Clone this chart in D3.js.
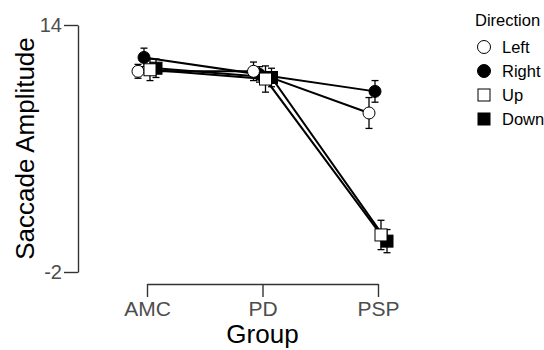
<!DOCTYPE html>
<html><head><meta charset="utf-8">
<script src="https://cdn.jsdelivr.net/npm/d3@7"></script>
<style>body{margin:0;background:#fff}svg{display:block}</style>
</head><body>
<svg id="c" width="544" height="350"></svg>
<script>
const groups = ["AMC", "PD", "PSP"];
const directions = ["Left", "Right", "Up", "Down"];
const meanLeft  = [11.0, 11.0, 8.3];
const meanRight = [11.9, 10.8, 9.7];
const meanUp    = [11.1, 10.5, 0.4];
const meanDown  = [11.2, 10.6, 0.0];
const seLeft  = [0.45, 0.6, 1.0];
const seRight = [0.6, 0.5, 0.7];
const seUp    = [0.7, 0.85, 0.95];
const seDown  = [0.6, 0.6, 0.75];
const yTicks = [-2, 14];

const means = {Left: meanLeft, Right: meanRight, Up: meanUp, Down: meanDown};
const ses = {Left: seLeft, Right: seRight, Up: seUp, Down: seDown};
const shapes = {Left: ["circle", "#fff"], Right: ["circle", "#000"], Up: ["square", "#fff"], Down: ["square", "#000"]};

const svg = d3.select("#c");
const x = d3.scalePoint().domain(groups).range([147, 378]);
const dodge = d3.scalePoint().domain(directions).range([-9, 9]);
const y = d3.scaleLinear().domain([-2, 14]).range([272, 25]);
const font = "Liberation Sans, Arial, sans-serif";

// Y axis
const ya = svg.append("g").attr("transform", "translate(78,0)")
  .call(d3.axisLeft(y).tickValues(yTicks).tickFormat(d => String(d)).tickSize(14).tickSizeOuter(0).tickPadding(2));
ya.select(".domain").attr("stroke", "#333").attr("stroke-width", 1.4);
ya.selectAll(".tick line").attr("stroke", "#333").attr("stroke-width", 1.4);
ya.selectAll(".tick text").attr("font-family", font).attr("font-size", 20).attr("fill", "#4d4d4d");

// X axis
const xa = svg.append("g").attr("transform", "translate(0,284)")
  .call(d3.axisBottom(x).tickSize(13).tickSizeOuter(0).tickPadding(4));
xa.select(".domain").attr("stroke", "#333").attr("stroke-width", 1.4);
xa.selectAll(".tick line").attr("stroke", "#333").attr("stroke-width", 1.4);
xa.selectAll(".tick text").attr("font-family", font).attr("font-size", 21).attr("fill", "#4d4d4d");

svg.append("text").attr("transform", "translate(34,148.5) rotate(-90)")
  .attr("text-anchor", "middle").attr("font-family", font).attr("font-size", 26).text("Saccade Amplitude");
svg.append("text").attr("x", 262.5).attr("y", 343)
  .attr("text-anchor", "middle").attr("font-family", font).attr("font-size", 26).text("Group");

const px = (d, i) => x(groups[i]) + dodge(d);

// lines
const lineGen = d3.line().x(p => p[0]).y(p => p[1]);
directions.forEach(d => {
  const pts = groups.map((g, i) => [px(d, i), y(means[d][i])]);
  svg.append("path").attr("d", lineGen(pts)).attr("fill", "none").attr("stroke", "#000").attr("stroke-width", 2);
});

// error bars
directions.forEach(d => {
  groups.forEach((g, i) => {
    const cx = px(d, i), lo = y(means[d][i] - ses[d][i]), hi = y(means[d][i] + ses[d][i]);
    const eg = svg.append("g").attr("stroke", "#000").attr("stroke-width", 1.3);
    eg.append("line").attr("x1", cx).attr("x2", cx).attr("y1", lo).attr("y2", hi);
    eg.append("line").attr("x1", cx - 3.5).attr("x2", cx + 3.5).attr("y1", lo).attr("y2", lo);
    eg.append("line").attr("x1", cx - 3.5).attr("x2", cx + 3.5).attr("y1", hi).attr("y2", hi);
  });
});

// points
function drawShape(g, d, cx, cy, r) {
  const [s, f] = shapes[d];
  if (s === "circle") {
    g.append("circle").attr("cx", cx).attr("cy", cy).attr("r", r).attr("fill", f).attr("stroke", "#000").attr("stroke-width", 1);
  } else {
    g.append("rect").attr("x", cx - r).attr("y", cy - r).attr("width", 2 * r).attr("height", 2 * r).attr("fill", f).attr("stroke", "#000").attr("stroke-width", 1);
  }
}
["Right", "Left", "Down", "Up"].forEach(d => {
  groups.forEach((g, i) => drawShape(svg, d, px(d, i), y(means[d][i]), 6));
});

// legend
svg.append("text").attr("x", 475).attr("y", 26).attr("font-family", font).attr("font-size", 16.5).text("Direction");
const ly = d3.scalePoint().domain(directions).range([47, 119]);
directions.forEach(d => {
  drawShape(svg, d, 484, ly(d), d === "Left" || d === "Right" ? 6.5 : 6);
  svg.append("text").attr("x", 502).attr("y", ly(d) + 6).attr("font-family", font).attr("font-size", 16.5).text(d);
});
</script>
</body></html>
